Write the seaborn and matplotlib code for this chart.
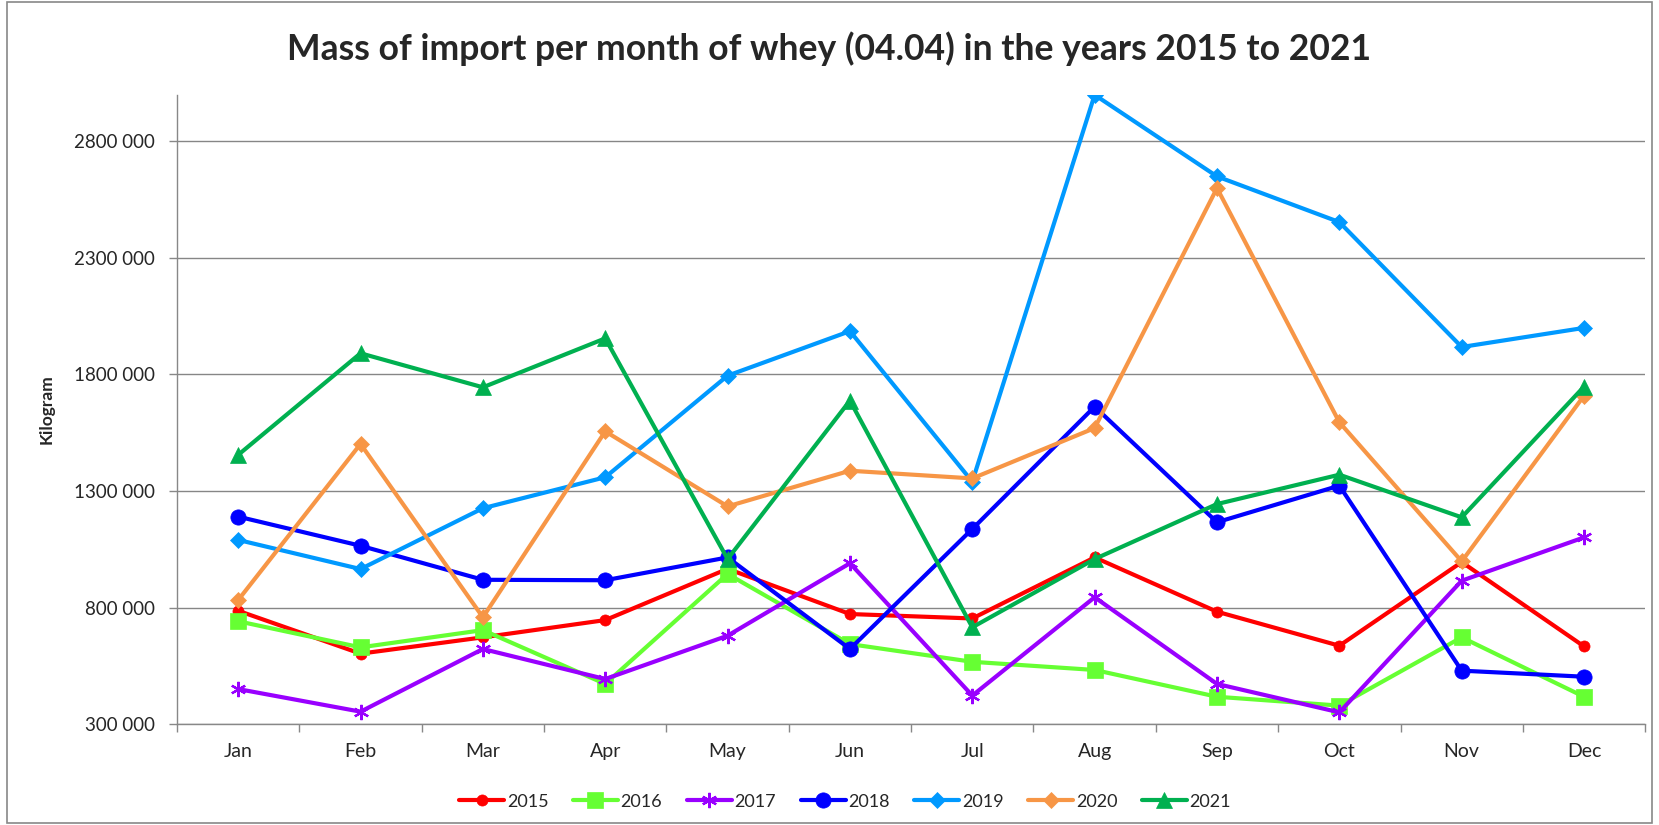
import matplotlib
matplotlib.use("Agg")
import matplotlib.pyplot as plt
import seaborn as sns
import numpy as np
from matplotlib.patches import Rectangle
from matplotlib.ticker import FixedLocator, FuncFormatter

months = ["Jan", "Feb", "Mar", "Apr", "May", "Jun", "Jul", "Aug", "Sep", "Oct", "Nov", "Dec"]

y2015 = [786000, 602000, 672000, 746000, 966000, 772000, 753000, 1015000, 782000, 636000, 995000, 633000]
y2016 = [741000, 629000, 703000, 472000, 944000, 643000, 567000, 532000, 417000, 379000, 672000, 417000]
y2017 = [450000, 353000, 622000, 493000, 679000, 990000, 422000, 844000, 472000, 350000, 915000, 1101000]
y2018 = [1190000, 1065000, 919000, 917000, 1015000, 622000, 1137000, 1662000, 1166000, 1323000, 529000, 503000]
y2019 = [1090000, 965000, 1226000, 1359000, 1795000, 1986000, 1340000, 3000000, 2650000, 2454000, 1918000, 2000000]
y2020 = [832000, 1502000, 758000, 1556000, 1234000, 1387000, 1354000, 1570000, 2600000, 1595000, 998000, 1709000]
y2021 = [1455000, 1891000, 1745000, 1955000, 1008000, 1688000, 715000, 1008000, 1244000, 1370000, 1187000, 1748000]

years = ["2015", "2016", "2017", "2018", "2019", "2020", "2021"]
series = [y2015, y2016, y2017, y2018, y2019, y2020, y2021]
colors = ["#FF0000", "#66FF33", "#9900FF", "#0000FF", "#0099FF", "#F79646", "#00B050"]
markers = ["o", "s", (6, 2, 0), "o", "D", "D", "^"]
msizes = [8, 11, 11, 11, 8, 8, 11]

yticks = [300000, 800000, 1300000, 1800000, 2300000, 2800000]

sns.set_theme(style="white")
plt.rcParams["font.family"] = ["Lato", "DejaVu Sans"]

fig = plt.figure(figsize=(16.59, 8.25), dpi=100)
ax = fig.add_axes([0.1067, 0.1224, 0.885, 0.7626])

x = np.arange(len(months))
for yr, vals, c, m, ms in zip(years, series, colors, markers, msizes):
    sns.lineplot(x=x, y=vals, color=c, marker=m, markersize=ms, linewidth=3.0,
                 markeredgecolor=c, markeredgewidth=1.6 if m == (6, 2, 0) else 0.5,
                 label=yr, ax=ax, sort=False)

ax.set_xlim(-0.5, 11.5)
ax.set_ylim(300000, 3000000)
ax.set_xticks(x)
ax.set_xticklabels(months, fontsize=14)
ax.xaxis.set_minor_locator(FixedLocator(np.arange(-0.5, 12, 1)))
ax.tick_params(axis="x", which="major", length=0, pad=14)
ax.tick_params(axis="x", which="minor", length=6, color="#888888", width=1, direction="out")
ax.set_yticks(yticks)
ax.yaxis.set_major_formatter(FuncFormatter(lambda v, p: f"{int(v)//1000} 000"))
ax.tick_params(axis="y", which="major", length=6, color="#888888", width=1, direction="out", labelsize=13.5, pad=10)
ax.tick_params(bottom=True, left=True, which="both")
ax.yaxis.grid(True, color="#868686", linewidth=1)
ax.xaxis.grid(False)
for s in ["top", "right"]:
    ax.spines[s].set_visible(False)
for s in ["left", "bottom"]:
    ax.spines[s].set_color("#888888")
    ax.spines[s].set_linewidth(1)
ax.set_xlabel("")
ax.set_ylabel("Kilogram", fontsize=12.5, fontweight="bold", labelpad=14)

fig.suptitle("Mass of import per month of whey (04.04) in the years 2015 to 2021",
             fontsize=25.6, fontweight="bold", y=0.962)

leg = ax.legend(loc="upper center", bbox_to_anchor=(0.455, -0.085), ncol=7, frameon=False,
                fontsize=13, handlelength=2.5, handletextpad=0.15, columnspacing=1.35)

fig.patches.append(Rectangle((0.004, 0.003), 0.992, 0.994, transform=fig.transFigure,
                             fill=False, edgecolor="#888888", linewidth=1.2))

fig.savefig("out.png", dpi=100)
